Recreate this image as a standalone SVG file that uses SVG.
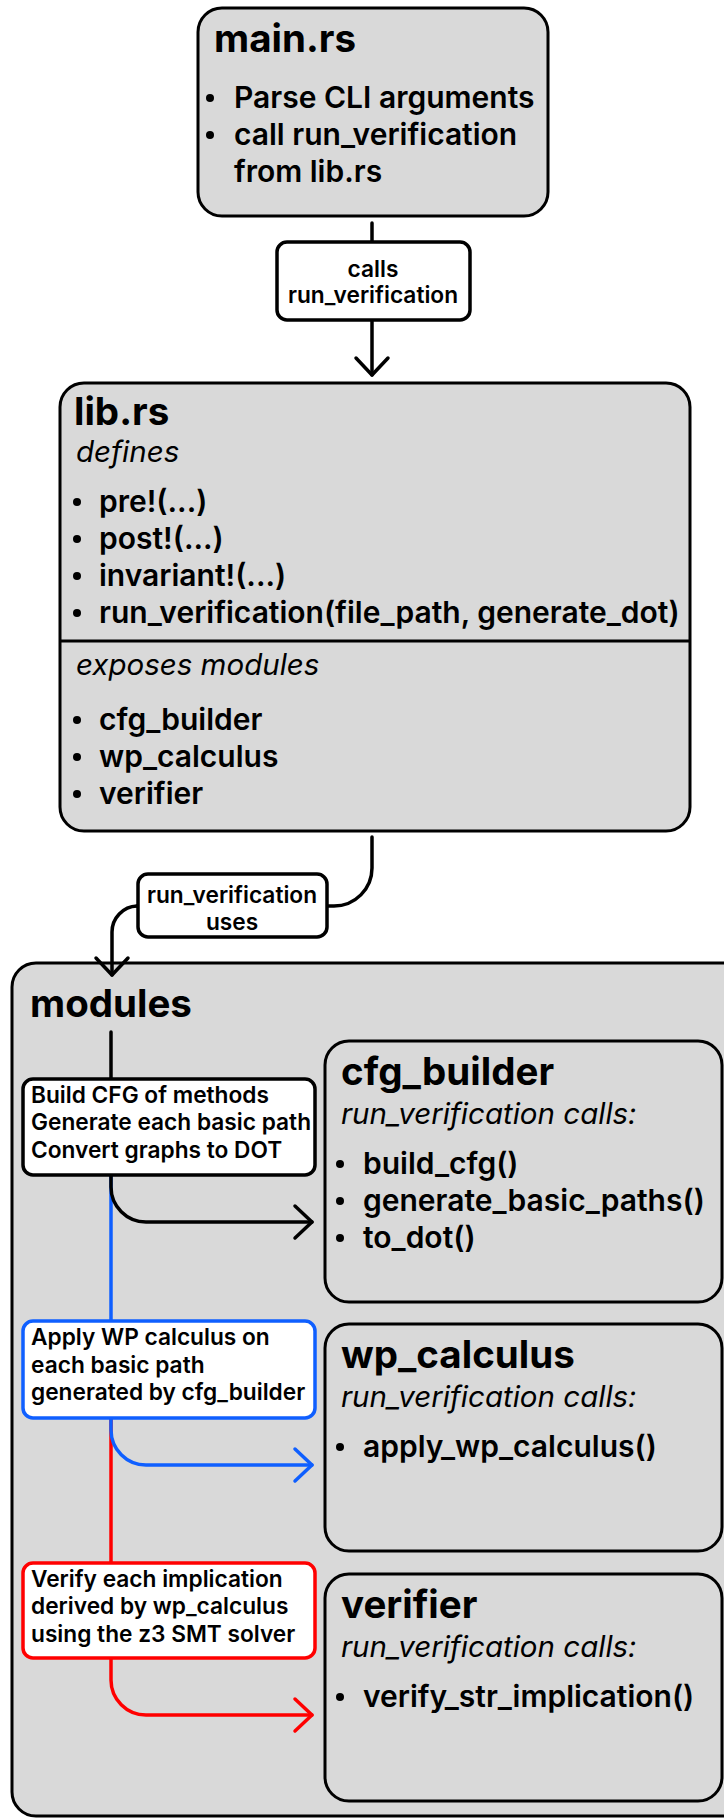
<svg xmlns="http://www.w3.org/2000/svg" width="724" height="1818" viewBox="0 0 724 1818">
  <style>
    .box { fill: #d9d9d9; stroke: #000; stroke-width: 3; }
    .lbl { fill: #fff; stroke-width: 3.5; }
    .title { font-family: Inter, "Liberation Sans", sans-serif; font-weight: 700; font-size: 38.5px; fill: #000; }
    .item { font-family: Inter, "Liberation Sans", sans-serif; font-weight: 600; font-size: 30px; fill: #000; }
    .sub { font-family: Inter, "Liberation Sans", sans-serif; font-style: italic; font-weight: 400; font-size: 29.5px; fill: #000; }
    .ltxt { font-family: Inter, "Liberation Sans", sans-serif; font-weight: 600; font-size: 22.7px; fill: #000; }
    .dot { fill: #000; }
    .edge { fill: none; stroke-width: 3.5; stroke-linecap: round; stroke-linejoin: round; }
  </style>
  <defs>
    <marker id="arrBlack" markerUnits="userSpaceOnUse" markerWidth="40" markerHeight="40" viewBox="-20 -20 40 40" refX="0" refY="0" orient="auto">
      <path d="M-17,-16 L0,0 L-17,16" fill="none" stroke="#000" stroke-width="3.5" stroke-linecap="round" stroke-linejoin="round"/>
    </marker>
    <marker id="arrBlue" markerUnits="userSpaceOnUse" markerWidth="40" markerHeight="40" viewBox="-20 -20 40 40" refX="0" refY="0" orient="auto">
      <path d="M-17,-16 L0,0 L-17,16" fill="none" stroke="#0f5fff" stroke-width="3.5" stroke-linecap="round" stroke-linejoin="round"/>
    </marker>
    <marker id="arrRed" markerUnits="userSpaceOnUse" markerWidth="40" markerHeight="40" viewBox="-20 -20 40 40" refX="0" refY="0" orient="auto">
      <path d="M-17,-16 L0,0 L-17,16" fill="none" stroke="#ff0000" stroke-width="3.5" stroke-linecap="round" stroke-linejoin="round"/>
    </marker>
  </defs>

  <!-- main.rs -->
  <g id="main-rs">
    <rect class="box" x="198" y="8" width="350" height="208" rx="24"/>
    <text class="title" x="214" y="52">main.rs</text>
    <circle class="dot" cx="210" cy="98" r="4"/>
    <text class="item" x="234" y="108">Parse CLI arguments</text>
    <circle class="dot" cx="210" cy="135" r="4"/>
    <text class="item" x="234" y="145">call run_verification</text>
    <text class="item" x="234" y="182">from lib.rs</text>
  </g>

  <!-- lib.rs -->
  <g id="lib-rs">
    <rect class="box" x="60" y="383" width="630" height="448" rx="24"/>
    <line x1="60" y1="641" x2="690" y2="641" stroke="#000" stroke-width="3"/>
    <text class="title" x="74" y="425">lib.rs</text>
    <text class="sub" x="76" y="462">defines</text>
    <circle class="dot" cx="77" cy="502" r="4"/>
    <text class="item" x="99" y="512">pre!(...)</text>
    <circle class="dot" cx="77" cy="539" r="4"/>
    <text class="item" x="99" y="549">post!(...)</text>
    <circle class="dot" cx="77" cy="576" r="4"/>
    <text class="item" x="99" y="586">invariant!(...)</text>
    <circle class="dot" cx="77" cy="613" r="4"/>
    <text class="item" x="99" y="623">run_verification(file_path, generate_dot)</text>
    <text class="sub" x="76" y="675">exposes modules</text>
    <circle class="dot" cx="77" cy="720" r="4"/>
    <text class="item" x="99" y="730">cfg_builder</text>
    <circle class="dot" cx="77" cy="757" r="4"/>
    <text class="item" x="99" y="767">wp_calculus</text>
    <circle class="dot" cx="77" cy="794" r="4"/>
    <text class="item" x="99" y="804">verifier</text>
  </g>

  <!-- modules container -->
  <g id="modules">
    <rect class="box" x="12" y="963" width="740" height="853" rx="24"/>
    <text class="title" x="30" y="1017">modules</text>
  </g>

  <!-- cfg_builder -->
  <g id="cfg-builder">
    <rect class="box" x="325" y="1041" width="397" height="261" rx="24"/>
    <text class="title" x="341" y="1085">cfg_builder</text>
    <text class="sub" x="341" y="1124">run_verification calls:</text>
    <circle class="dot" cx="340" cy="1164" r="4"/>
    <text class="item" x="363" y="1174">build_cfg()</text>
    <circle class="dot" cx="340" cy="1201" r="4"/>
    <text class="item" x="363" y="1211">generate_basic_paths()</text>
    <circle class="dot" cx="340" cy="1238" r="4"/>
    <text class="item" x="363" y="1248">to_dot()</text>
  </g>

  <!-- wp_calculus -->
  <g id="wp-calculus">
    <rect class="box" x="325" y="1324" width="397" height="227" rx="24"/>
    <text class="title" x="341" y="1368">wp_calculus</text>
    <text class="sub" x="341" y="1407">run_verification calls:</text>
    <circle class="dot" cx="340" cy="1447" r="4"/>
    <text class="item" x="363" y="1457">apply_wp_calculus()</text>
  </g>

  <!-- verifier -->
  <g id="verifier">
    <rect class="box" x="325" y="1574" width="397" height="227" rx="24"/>
    <text class="title" x="341" y="1618">verifier</text>
    <text class="sub" x="341" y="1657">run_verification calls:</text>
    <circle class="dot" cx="340" cy="1697" r="4"/>
    <text class="item" x="363" y="1707">verify_str_implication()</text>
  </g>

  <!-- connectors -->
  <g id="connectors">
    <path class="edge" stroke="#000" d="M372,223 V375" marker-end="url(#arrBlack)"/>
    <path class="edge" stroke="#000" d="M372,837 V868 A38,38 0 0 1 334,906 H137"/>
    <path class="edge" stroke="#000" d="M137,906 A26,26 0 0 0 112,932 V975" marker-end="url(#arrBlack)"/>
    <path class="edge" stroke="#000" d="M111,1032 V1078"/>
    <path class="edge" stroke="#ff0000" d="M111,1418 V1562"/>
    <path class="edge" stroke="#ff0000" d="M111,1658 V1680 A35,35 0 0 0 146,1715 H312" marker-end="url(#arrRed)"/>
    <path class="edge" stroke="#0f5fff" d="M111,1175 V1320"/>
    <path class="edge" stroke="#0f5fff" d="M111,1418 V1430 A35,35 0 0 0 146,1465 H312" marker-end="url(#arrBlue)"/>
    <path class="edge" stroke="#000" d="M111,1175 V1187 A35,35 0 0 0 146,1222 H312" marker-end="url(#arrBlack)"/>
  </g>

  <!-- connector labels -->
  <g id="label-calls">
    <rect class="lbl" stroke="#000" x="277" y="242" width="193" height="78" rx="10"/>
    <text class="ltxt" x="373" y="277" text-anchor="middle">calls</text>
    <text class="ltxt" x="373" y="303" text-anchor="middle">run_verification</text>
  </g>
  <g id="label-uses">
    <rect class="lbl" stroke="#000" x="138" y="874" width="189" height="63" rx="10"/>
    <text class="ltxt" x="232" y="903" text-anchor="middle">run_verification</text>
    <text class="ltxt" x="232" y="930" text-anchor="middle">uses</text>
  </g>
  <g id="label-cfg">
    <rect class="lbl" stroke="#000" x="23" y="1079" width="292" height="96" rx="10"/>
    <text class="ltxt" x="31" y="1103">Build CFG of methods</text>
    <text class="ltxt" x="31" y="1130">Generate each basic path</text>
    <text class="ltxt" x="31" y="1158">Convert graphs to DOT</text>
  </g>
  <g id="label-wp">
    <rect class="lbl" stroke="#0f5fff" x="23" y="1321" width="292" height="97" rx="10"/>
    <text class="ltxt" x="31" y="1345">Apply WP calculus on</text>
    <text class="ltxt" x="31" y="1373">each basic path</text>
    <text class="ltxt" x="31" y="1400">generated by cfg_builder</text>
  </g>
  <g id="label-verify">
    <rect class="lbl" stroke="#ff0000" x="23" y="1563" width="292" height="95" rx="10"/>
    <text class="ltxt" x="31" y="1587">Verify each implication</text>
    <text class="ltxt" x="31" y="1614">derived by wp_calculus</text>
    <text class="ltxt" x="31" y="1642">using the z3 SMT solver</text>
  </g>
</svg>
